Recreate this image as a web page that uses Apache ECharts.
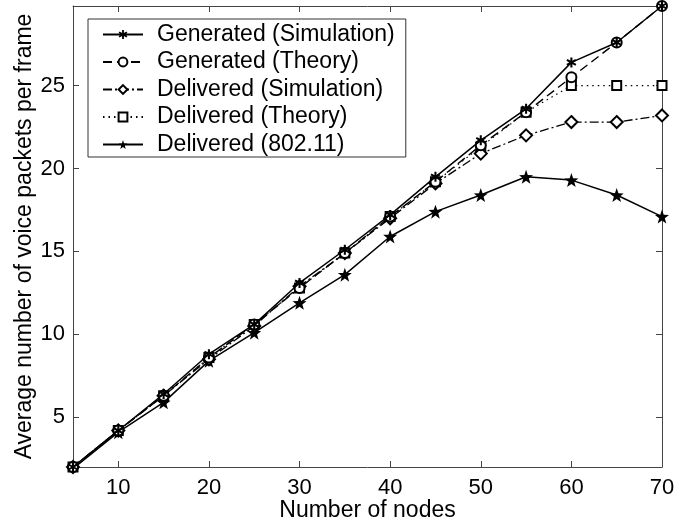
<!DOCTYPE html>
<html>
<head>
<meta charset="utf-8">
<script src="https://cdn.jsdelivr.net/npm/echarts@6/dist/echarts.min.js"></script>
<style>
html,body{margin:0;padding:0;background:#fff;}
#chart{width:689px;height:524px;}
</style>
</head>
<body>
<div id="chart"></div>
<script>
const nodes = [5, 10, 15, 20, 25, 30, 35, 40, 45, 50, 55, 60, 65, 70];
const generatedSim = [2.0, 4.2, 6.4, 8.8, 10.6, 13.1, 15.1, 17.2, 19.5, 21.7, 23.6, 26.4, 27.6, 29.8];
const generatedTheory = [2.0, 4.2, 6.3, 8.6, 10.6, 12.8, 14.9, 17.1, 19.2, 21.4, 23.4, 25.5, 27.6, 29.8];
const deliveredSim = [2.0, 4.2, 6.3, 8.5, 10.5, 12.9, 14.9, 17.0, 19.1, 20.9, 22.0, 22.8, 22.8, 23.2];
const deliveredTheory = [2.0, 4.2, 6.3, 8.6, 10.6, 12.8, 14.9, 17.1, 19.2, 21.3, 23.4, 25.0, 25.0, 25.0];
const delivered80211 = [1.9, 4.1, 5.9, 8.4, 10.1, 11.9, 13.6, 15.9, 17.4, 18.4, 19.5, 19.3, 18.4, 17.1];
const seriesNames = ['Generated (Simulation)', 'Generated (Theory)', 'Delivered (Simulation)', 'Delivered (Theory)', 'Delivered (802.11)'];
const xTicks = [10, 20, 30, 40, 50, 60, 70];
const yTicks = [5, 10, 15, 20, 25];

const STAR = 'path://M50 0 L61.76 33.82 L97.55 34.55 L69.02 56.18 L79.39 90.45 L50 70 L20.61 90.45 L30.98 56.18 L2.45 34.55 L38.24 33.82 Z';
const ASTER = 'path://M40 0 L60 0 L60 100 L40 100 Z M1.7 33.66 L11.7 16.34 L98.3 66.34 L88.3 83.66 Z M88.3 16.34 L98.3 33.66 L11.7 83.66 L1.7 66.34 Z';

const FONT = 'Liberation Sans, Arial, Helvetica, sans-serif';
const AX = '#444';

function pairs(vals) { return nodes.map((x, i) => [x, vals[i]]); }

const chart = echarts.init(document.getElementById('chart'), null, {renderer: 'canvas'});

const baseX = {
  type: 'value', min: 5, max: 70,
  axisLine: {show: true, lineStyle: {color: AX, width: 1}},
  splitLine: {show: false},
};
const baseY = {
  type: 'value', min: 2, max: 29.8,
  axisLine: {show: true, lineStyle: {color: AX, width: 1}},
  splitLine: {show: false},
};

chart.setOption({
  animation: false,
  backgroundColor: '#fff',
  grid: {left: 73, right: 27, top: 6, bottom: 57, containLabel: false, outerBoundsMode: 'none'},
  xAxis: [
    Object.assign({}, baseX, {
      position: 'bottom',
      name: 'Number of nodes', nameLocation: 'middle', nameGap: 32, nameMoveOverlap: false,
      nameTextStyle: {fontFamily: FONT, fontSize: 23, color: '#000'},
      axisTick: {show: true, inside: true, length: 6, customValues: xTicks, lineStyle: {color: AX}},
      axisLabel: {show: true, customValues: xTicks, fontFamily: FONT, fontSize: 22, color: '#000', margin: 10}
    }),
    Object.assign({}, baseX, {
      position: 'top',
      axisTick: {show: true, inside: true, length: 6, customValues: xTicks, lineStyle: {color: AX}},
      axisLabel: {show: false}
    })
  ],
  yAxis: [
    Object.assign({}, baseY, {
      position: 'left',
      name: 'Average number of voice packets per frame', nameLocation: 'middle', nameGap: 37, nameMoveOverlap: false,
      nameTextStyle: {fontFamily: FONT, fontSize: 23, color: '#000'},
      axisTick: {show: true, inside: true, length: 6, customValues: yTicks, lineStyle: {color: AX}},
      axisLabel: {show: true, customValues: yTicks, fontFamily: FONT, fontSize: 22, color: '#000', margin: 8}
    }),
    Object.assign({}, baseY, {
      position: 'right',
      axisTick: {show: true, inside: true, length: 6, customValues: yTicks, lineStyle: {color: AX}},
      axisLabel: {show: false}
    })
  ],
  legend: {
    orient: 'vertical', left: 88, top: 19,
    padding: [4, 11, 1, 14],
    itemWidth: 40, itemHeight: 11, itemGap: 4.5,
    backgroundColor: '#fff', borderColor: '#333', borderWidth: 1,
    textStyle: {fontFamily: FONT, fontSize: 23, color: '#000', lineHeight: 23, padding: [0, 0, 0, 9]},
    data: seriesNames
  },
  series: [
    {
      name: seriesNames[4], type: 'line', data: pairs(delivered80211),
      symbol: STAR, symbolSize: 14, color: '#000',
      lineStyle: {color: '#000', width: 1.5, type: 'solid'},
      itemStyle: {color: '#000'}, z: 2
    },
    {
      name: seriesNames[3], type: 'line', data: pairs(deliveredTheory),
      symbol: 'emptyRect', symbolSize: 9, color: '#000',
      lineStyle: {color: '#000', width: 1.2, type: [1.5, 4]},
      itemStyle: {color: '#000', borderWidth: 1.2}, z: 3
    },
    {
      name: seriesNames[2], type: 'line', data: pairs(deliveredSim),
      symbol: 'emptyDiamond', symbolSize: 12, color: '#000',
      lineStyle: {color: '#000', width: 1.3, type: [9, 3, 2, 3]},
      itemStyle: {color: '#000', borderWidth: 1.3}, z: 4
    },
    {
      name: seriesNames[1], type: 'line', data: pairs(generatedTheory),
      symbol: 'emptyCircle', symbolSize: 10, color: '#000',
      lineStyle: {color: '#000', width: 1.4, type: [9, 5]},
      itemStyle: {color: '#000', borderWidth: 1.4}, z: 5
    },
    {
      name: seriesNames[0], type: 'line', data: pairs(generatedSim),
      symbol: ASTER, symbolSize: 10, color: '#000',
      lineStyle: {color: '#000', width: 1.5, type: 'solid'},
      itemStyle: {color: '#000'}, z: 6
    }
  ]
});
</script>
</body>
</html>
